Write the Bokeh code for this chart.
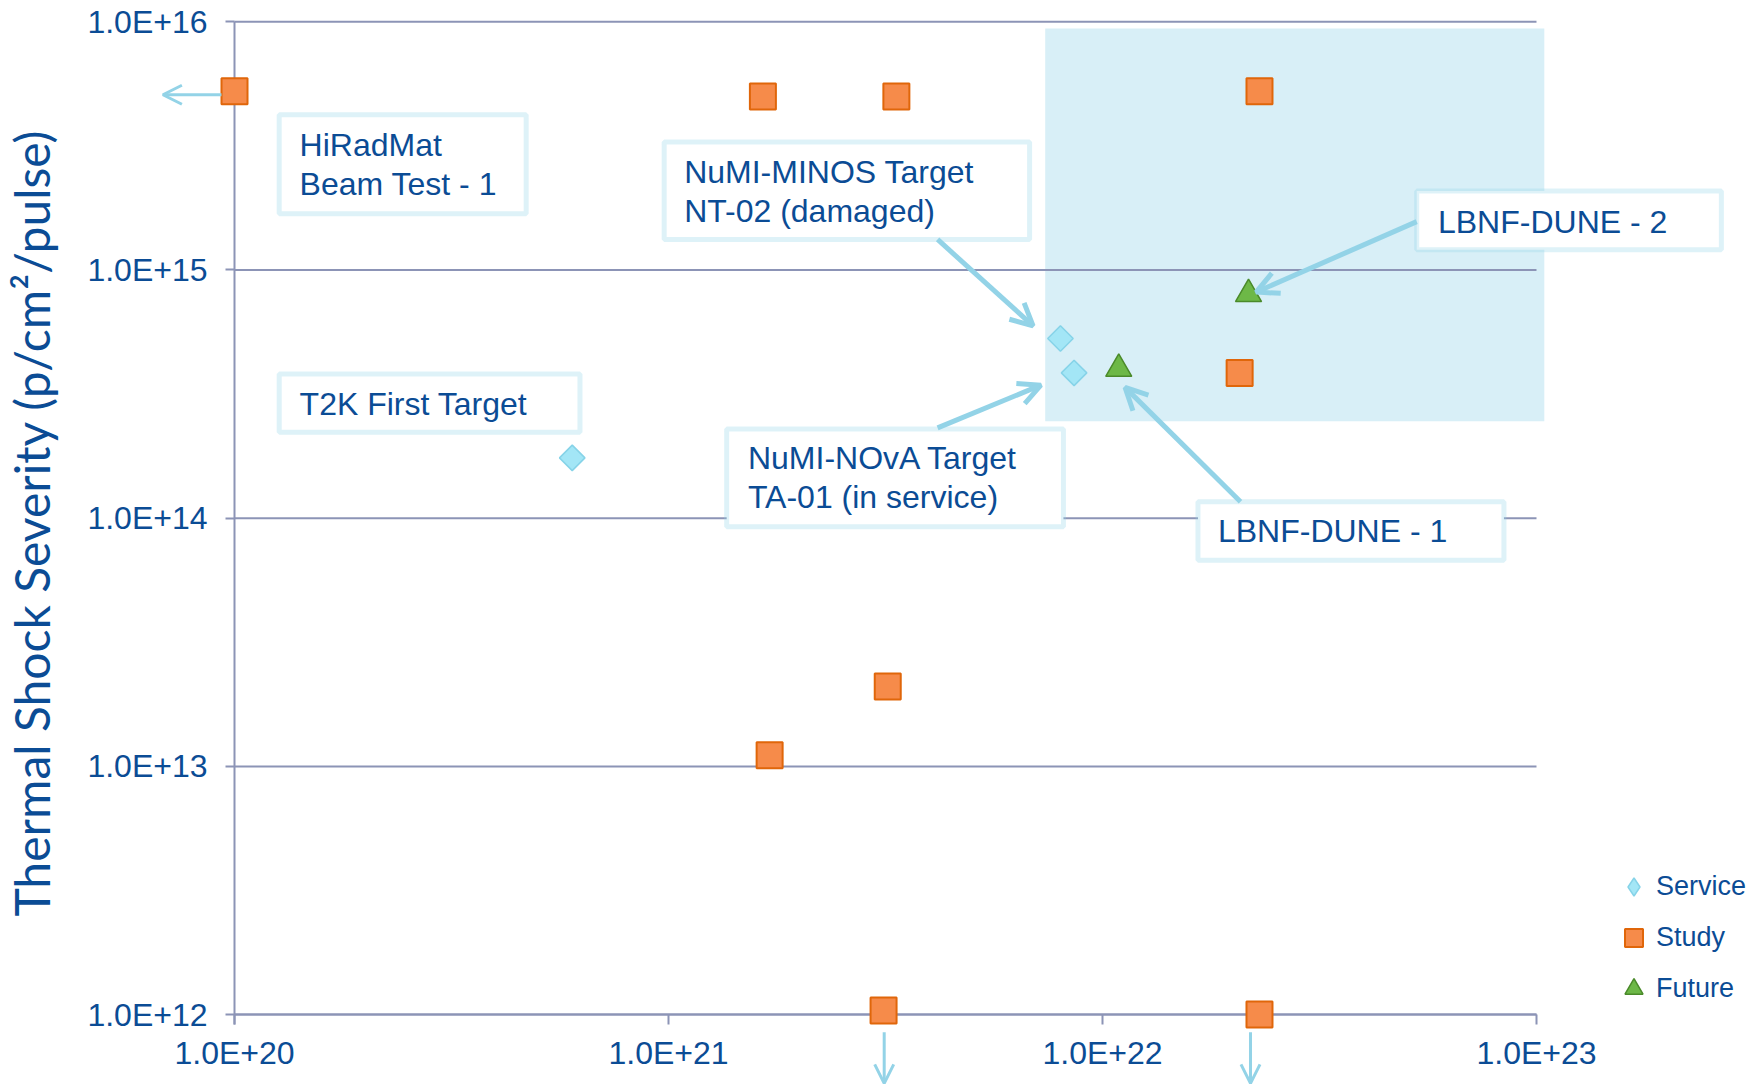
from bokeh.plotting import figure
from bokeh.models import (Range1d, FixedTicker, BoxAnnotation, Label, Arrow, OpenHead,
                          Legend, LegendItem)
from bokeh.embed import file_html
from bokeh.resources import INLINE
import math

# ---------------- data ----------------
service_x = [6.0e20, 8.0e21, 8.6e21]
service_y = [1.75e14, 5.3e14, 3.85e14]

study_x = [1.0e20, 1.65e21, 3.35e21, 2.30e22, 2.07e22, 3.2e21, 1.71e21, 3.13e21, 2.30e22]
study_y = [5.25e15, 5.0e15, 5.0e15, 5.25e15, 3.85e14, 2.1e13, 1.11e13, 1.04e12, 1.0e12]

future_x = [1.09e22, 2.17e22]
future_y = [4.0e14, 8.0e14]

series_names = ["Service", "Study", "Future"]

x_ticks = [1e20, 1e21, 1e22, 1e23]
x_tick_labels = ["1.0E+20", "1.0E+21", "1.0E+22", "1.0E+23"]
y_ticks = [1e12, 1e13, 1e14, 1e15, 1e16]
y_tick_labels = ["1.0E+12", "1.0E+13", "1.0E+14", "1.0E+15", "1.0E+16"]
y_title = "Thermal Shock Severity (p/cm\u00b2/pulse)"

# ---------------- styling ----------------
TXT = "#0B4C95"
GRID = "#8C94B6"
CALL = "#93D3E7"
FONT = "Liberation Sans"
SERVICE_FILL, SERVICE_LINE = "#A3E6F6", "#86D3E8"
STUDY_FILL, STUDY_LINE = "#F68B4A", "#E0660A"
FUTURE_FILL, FUTURE_LINE = "#6DB847", "#4A8A2A"
L = lambda v: 10 ** v

# the drawing area covers the whole canvas so that call-outs, arrows and the
# legend that sit outside the axes box are not clipped; the axes are pinned
# to 1e20 / 1e12 with fixed_location.
p = figure(width=1750, height=1084, x_axis_type="log", y_axis_type="log",
           x_range=Range1d(L(19.4608), L(23.4931)), y_range=Range1d(L(11.7184), L(16.0858)),
           output_backend="svg", toolbar_location=None,
           min_border_left=0, min_border_right=0, min_border_top=0, min_border_bottom=0)
p.outline_line_color = None
p.background_fill_color = "white"
p.border_fill_color = "white"
p.xgrid.visible = False
p.ygrid.visible = False

# shaded target-design region (lowest level)
p.add_layout(BoxAnnotation(left=L(21.868), right=L(23.018), top=L(15.973), bottom=L(14.391),
                           fill_color="#D8EFF7", fill_alpha=1.0, line_color=None, level="image"))

# horizontal grid lines, only across the axes box
p.segment(x0=[x_ticks[0]] * len(y_ticks), x1=[x_ticks[-1]] * len(y_ticks),
          y0=y_ticks, y1=y_ticks, line_color=GRID, line_width=2)

for ax, ticks, labels, loc, bnds in ((p.xaxis[0], x_ticks, x_tick_labels, y_ticks[0], (x_ticks[0], x_ticks[-1])),
                                     (p.yaxis[0], y_ticks, y_tick_labels, x_ticks[0], (L(11.96), y_ticks[-1]))):
    ax.ticker = FixedTicker(ticks=ticks, minor_ticks=[])
    ax.major_label_overrides = dict(zip(ticks, labels))
    ax.fixed_location = loc
    ax.bounds = bnds
    ax.level = "underlay"
    ax.axis_line_color = GRID
    ax.axis_line_width = 2
    ax.major_tick_line_color = GRID
    ax.major_tick_line_width = 2
    ax.major_tick_in = 0
    ax.minor_tick_line_color = None
    ax.major_label_text_font = FONT
    ax.major_label_text_font_size = "32px"
    ax.major_label_text_color = TXT

p.xaxis.major_tick_out = 10
p.xaxis.major_label_standoff = 10
p.yaxis.major_tick_out = 9
p.yaxis.major_label_standoff = 18

p.yaxis.axis_label = y_title
p.yaxis.axis_label_text_font = "Lato"
p.yaxis.axis_label_text_font_style = "normal"
p.yaxis.axis_label_text_font_size = "48px"
p.yaxis.axis_label_text_color = TXT
p.yaxis.axis_label_standoff = 24

# ---------------- series ----------------
r_service = p.scatter(service_x, service_y, marker="square", angle=math.pi / 4, size=18,
                      fill_color=SERVICE_FILL, line_color=SERVICE_LINE, line_width=1.5)
r_study = p.scatter(study_x, study_y, marker="square", size=26,
                    fill_color=STUDY_FILL, line_color=STUDY_LINE, line_width=2)
r_future = p.scatter(future_x, future_y, marker="triangle", size=26,
                     fill_color=FUTURE_FILL, line_color=FUTURE_LINE, line_width=1.5)
# legend key for the "Service" series (the legend does not rotate markers),
# same data, not drawn in the plot itself
r_service_key = p.scatter(service_x, service_y, marker="diamond", size=18, visible=False,
                          fill_color=SERVICE_FILL, line_color=SERVICE_LINE, line_width=1.5)

# ---------------- callouts ----------------
callouts = [
    # (left, right, top, bottom, text_x, [(y, line), ...])   all in log10 units
    (20.103, 20.672, 15.625, 15.227, 20.150, [(15.503, "HiRadMat"), (15.345, "Beam Test - 1")]),
    (20.103, 20.796, 14.581, 14.346, 20.150, [(14.459, "T2K First Target")]),
    (20.990, 21.832, 15.516, 15.123, 21.036, [(15.394, "NuMI-MINOS Target"), (15.236, "NT-02 (damaged)")]),
    (21.134, 21.910, 14.359, 13.966, 21.183, [(14.242, "NuMI-NOvA Target"), (14.084, "TA-01 (in service)")]),
    (22.724, 23.426, 15.318, 15.082, 22.773, [(15.195, "LBNF-DUNE - 2")]),
    (22.220, 22.925, 14.066, 13.831, 22.266, [(13.948, "LBNF-DUNE - 1")]),
]
for l, r, t, b, tx, lines in callouts:
    p.add_layout(BoxAnnotation(left=L(l), right=L(r), top=L(t), bottom=L(b),
                               fill_color="white", fill_alpha=1.0,
                               line_color=CALL, line_width=5))
    for ty, txt in lines:
        p.add_layout(Label(x=L(tx), y=L(ty), text=txt, text_font=FONT, text_font_size="32px",
                           text_color=TXT, text_baseline="middle", text_align="left"))

thick_arrows = [
    (21.620, 15.123, 21.840, 14.775),
    (21.620, 14.364, 21.858, 14.536),
    (22.318, 14.066, 22.052, 14.527),
    (22.724, 15.195, 22.354, 14.911),
]
for xs, ys, xe, ye in thick_arrows:
    p.add_layout(Arrow(x_start=L(xs), y_start=L(ys), x_end=L(xe), y_end=L(ye),
                       line_color=CALL, line_width=5,
                       end=OpenHead(size=22, line_color=CALL, line_width=5)))

thin_arrows = [
    (19.970, 15.706, 19.835, 15.706),
    (21.497, 11.929, 21.497, 11.723),
    (22.341, 11.929, 22.341, 11.723),
]
for xs, ys, xe, ye in thin_arrows:
    p.add_layout(Arrow(x_start=L(xs), y_start=L(ys), x_end=L(xe), y_end=L(ye),
                       line_color=CALL, line_width=3,
                       end=OpenHead(size=19, line_color=CALL, line_width=3)))

# ---------------- legend ----------------
legend = Legend(items=[LegendItem(label=series_names[0], renderers=[r_service_key]),
                       LegendItem(label=series_names[1], renderers=[r_study]),
                       LegendItem(label=series_names[2], renderers=[r_future])],
                location=(1611, 73), orientation="vertical",
                glyph_width=45, glyph_height=45, label_standoff=0, spacing=6,
                padding=0, margin=0, border_line_alpha=0, background_fill_alpha=0,
                inactive_fill_alpha=0,
                label_text_font=FONT, label_text_font_size="27px", label_text_color=TXT)
p.add_layout(legend)

open("out.html", "w").write(file_html(p, INLINE))
